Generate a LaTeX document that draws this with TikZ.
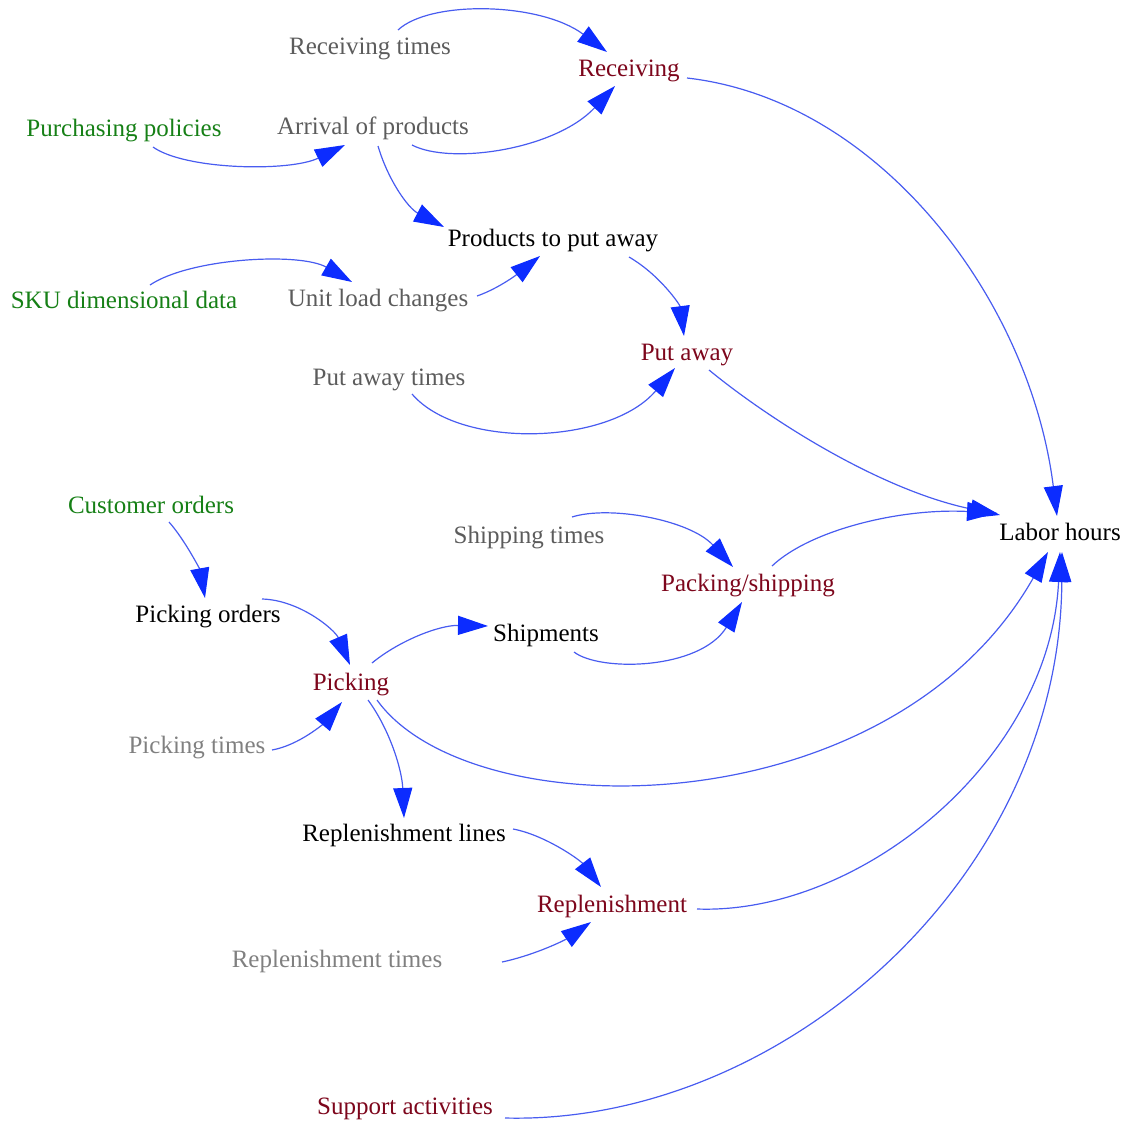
\documentclass[tikz,border=0pt]{standalone}
\usepackage{fontspec}
\setmainfont{Liberation Serif}
\usetikzlibrary{arrows.meta,calc}

\definecolor{srcgreen}{RGB}{22,128,22}
\definecolor{actred}{RGB}{125,6,28}
\definecolor{auxgray}{RGB}{92,92,92}
\definecolor{lightgray}{RGB}{128,128,128}
\definecolor{linkblue}{RGB}{72,92,240}
\definecolor{headblue}{RGB}{12,44,255}

\tikzset{
  var/.style={inner sep=0pt, text height=19pt, text depth=3pt,
              font=\fontsize{25}{30}\selectfont},
  source/.style={var, text=srcgreen},
  activity/.style={var, text=actred},
  timing/.style={var, text=auxgray},
  timinglight/.style={var, text=lightgray},
  flow/.style={var, text=black},
  link/.style={draw=linkblue, line width=1.2pt,
               -{Triangle[length=30pt,width=19pt,color=headblue]}}
}

\begin{document}
\begin{tikzpicture}[x=1pt,y=-1pt]
\useasboundingbox (0,0) rectangle (1130,1122);

% variables
\node[timing]      (rt)  at (370,46)   {Receiving times};
\node[activity]    (rc)  at (629,68)   {Receiving};
\node[source]      (pp)  at (124,128)  {Purchasing policies};
\node[timing]      (ap)  at (373,126)  {Arrival of products};
\node[flow]        (pa)  at (553,238)  {Products to put away};
\node[source]      (sku) at (124,300)  {SKU dimensional data};
\node[timing]      (ul)  at (378,298)  {Unit load changes};
\node[activity]    (pw)  at (687,352)  {Put away};
\node[timing]      (pt)  at (389,377)  {Put away times};
\node[source]      (co)  at (151,505)  {Customer orders};
\node[timing]      (st)  at (529,535)  {Shipping times};
\node[flow]        (lh)  at (1060,532) {Labor hours};
\node[activity]    (ps)  at (748,583)  {Packing/shipping};
\node[flow]        (po)  at (208,614)  {Picking orders};
\node[flow]        (sh)  at (546,633)  {Shipments};
\node[activity]    (pk)  at (351,682)  {Picking};
\node[timinglight] (pkt) at (197,745)  {Picking times};
\node[flow]        (rl)  at (404,833)  {Replenishment lines};
\node[activity]    (rp)  at (612,904)  {Replenishment};
\node[timinglight] (rpt) at (337,959)  {Replenishment times};
\node[activity]    (sa)  at (405,1106) {Support activities};

% receiving and put-away chain
\draw[link] ($(rt)+(28,-16)$) .. controls (430,0) and (540,2) .. ($(rc)+(-22,-16)$);
\draw[link] ($(ap)+(39,19)$) .. controls (450,165) and (555,150) .. ($(rc)+(-14,18)$);
\draw[link] ($(pp)+(29,19)$) .. controls (185,170) and (290,172) .. ($(ap)+(-28,19)$);
\draw[link] ($(ap)+(5,20)$) .. controls (388,180) and (408,208) .. ($(pa)+(-109,-11)$);
\draw[link] ($(sku)+(26,-15)$) .. controls (190,258) and (300,252) .. ($(ul)+(-26,-16)$);
\draw[link] ($(ul)+(99,-2)$) .. controls (500,288) and (520,272) .. ($(pa)+(-13,18)$);
\draw[link] ($(pa)+(76,19)$) .. controls (660,275) and (680,305) .. ($(pw)+(-3,-16)$);
\draw[link] ($(pt)+(23,17)$) .. controls (460,450) and (610,445) .. ($(pw)+(-12,16)$);

% contributions to labor hours
\draw[link] ($(rc)+(58,10)$) .. controls (880,100) and (1030,300) .. ($(lh)+(-3,-16)$);
\draw[link] ($(pw)+(22,18)$) .. controls (770,420) and (880,490) .. ($(lh)+(-60,-17)$);
\draw[link] ($(ps)+(24,-17)$) .. controls (810,530) and (900,508) .. ($(lh)+(-63,-19)$);

% packing and shipping
\draw[link] ($(st)+(43,-18)$) .. controls (610,505) and (690,520) .. ($(ps)+(-15,-16)$);
\draw[link] ($(sh)+(28,19)$) .. controls (600,672) and (700,670) .. ($(ps)+(-6,19)$);

% picking chain
\draw[link] ($(co)+(18,17)$) .. controls (185,540) and (200,570) .. ($(po)+(-3,-16)$);
\draw[link] ($(po)+(54,-15)$) .. controls (300,600) and (335,630) .. ($(pk)+(-1,-17)$);
\draw[link] ($(pk)+(21,-19)$) .. controls (400,640) and (440,625) .. ($(sh)+(-58,-7)$);
\draw[link] ($(pkt)+(75,5)$) .. controls (300,745) and (325,722) .. ($(pk)+(-9,20)$);
\draw[link] ($(pk)+(17,18)$) .. controls (390,730) and (402,770) .. ($(rl)+(0,-15)$);
\draw[link] ($(pk)+(26,18)$) .. controls (470,830) and (890,830) .. ($(lh)+(-12,20)$);

% replenishment and support
\draw[link] ($(rl)+(109,-4)$) .. controls (545,835) and (580,860) .. ($(rp)+(-11,-17)$);
\draw[link] ($(rpt)+(165,3)$) .. controls (535,955) and (565,940) .. ($(rp)+(-21,18)$);
\draw[link] ($(rp)+(85,5)$) .. controls (860,915) and (1050,760) .. ($(lh)+(0,20)$);
\draw[link] ($(sa)+(100,12)$) .. controls (780,1125) and (1060,880) .. ($(lh)+(2,20)$);
\end{tikzpicture}
\end{document}
